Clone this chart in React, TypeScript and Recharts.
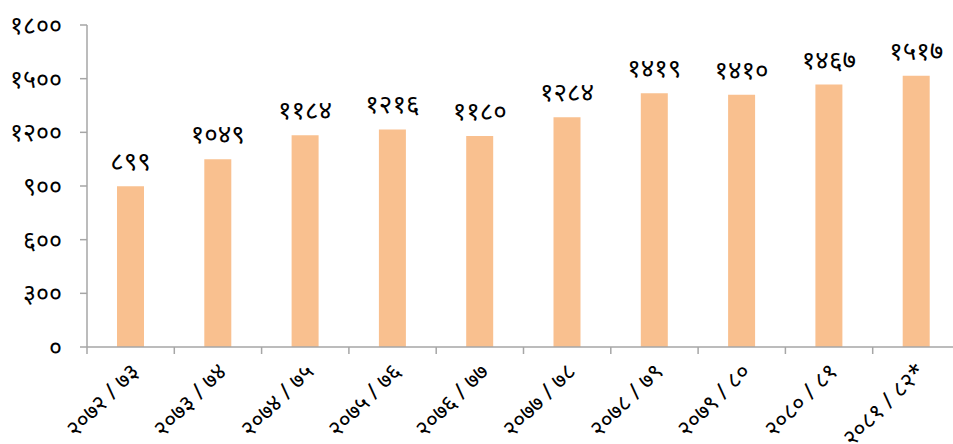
import { BarChart, Bar, XAxis, YAxis, LabelList } from 'recharts'

const years = [
  '२०७२ / ७३', '२०७३ / ७४', '२०७४ / ७५', '२०७५ / ७६', '२०७६ / ७७',
  '२०७७ / ७८', '२०७८ / ७९', '२०७९ / ८०', '२०८० / ८१', '२०८१ / ८२*',
]
const values = [899, 1049, 1184, 1216, 1180, 1284, 1419, 1410, 1467, 1517]
const yTicks = [0, 300, 600, 900, 1200, 1500, 1800]

const data = years.map((year, i) => ({ year, value: values[i] }))

const DEV = '०१२३४५६७८९'
const toDev = (n: number | string) => String(n).replace(/[0-9]/g, d => DEV[+d])

const W = 960
const H = 444
const M = { top: 25, right: 0, left: 0, bottom: 0 }
const Y_W = 87
const X_H = 97
const band = (W - M.left - M.right - Y_W) / years.length

const AXIS = '#a6a6a6'
const FONT = '"Noto Sans", sans-serif'

const XTick = ({ x, y, payload }: any) => {
  const left = x - band / 2
  const ax = x + 10
  const ay = y + 18
  return (
    <g>
      <line x1={left} y1={y - 8} x2={left} y2={y - 1} stroke={AXIS} strokeWidth={1.5} />
      <text
        x={ax}
        y={ay}
        textAnchor="end"
        fontSize={23}
        fill="#000"
        fontFamily={FONT}
        transform={`rotate(-45, ${ax}, ${ay})`}
      >
        {payload.value}
      </text>
    </g>
  )
}

export default function App() {
  return (
    <div style={{ position: 'absolute', left: 0, top: 0, width: 953, height: H, overflow: 'hidden', background: '#fff' }}>
      <BarChart width={W} height={H} data={data} margin={M} barCategoryGap={0}>
        <XAxis
          dataKey="year"
          height={X_H}
          interval={0}
          axisLine={{ stroke: AXIS, strokeWidth: 1.5 }}
          tickLine={false}
          tick={<XTick />}
        />
        <YAxis
          width={Y_W}
          domain={[0, 1800]}
          ticks={yTicks}
          interval={0}
          axisLine={{ stroke: AXIS, strokeWidth: 1.5 }}
          tickLine={{ stroke: AXIS, strokeWidth: 1.5 }}
          tickSize={7}
          tickMargin={18}
          tick={{ fontSize: 25, fill: '#000', fontFamily: FONT }}
          tickFormatter={toDev}
        />
        <Bar dataKey="value" fill="#f9c08f" barSize={27} isAnimationActive={false}>
          <LabelList
            dataKey="value"
            position="top"
            offset={16}
            fontSize={26}
            fill="#000"
            fontFamily={FONT}
            formatter={(v: any) => toDev(v)}
          />
        </Bar>
      </BarChart>
    </div>
  )
}
